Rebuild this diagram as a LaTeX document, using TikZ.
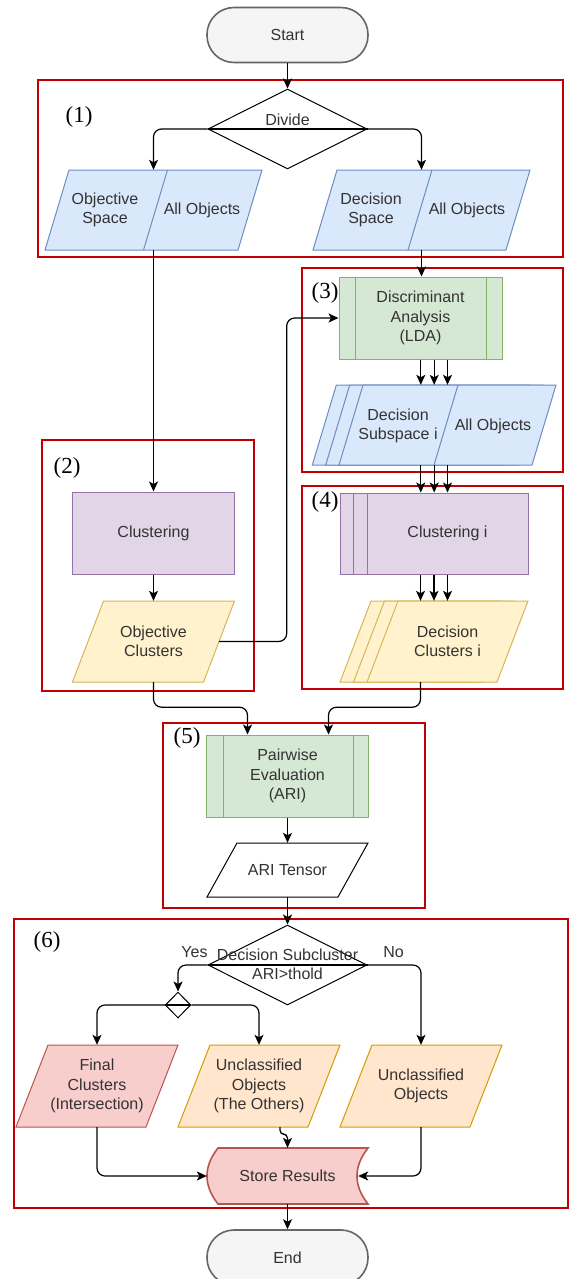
\documentclass[tikz,border=0pt]{standalone}
\usepackage{fontspec}
\setmainfont{Liberation Sans}
\newfontfamily\numfont{Liberation Serif}
\usetikzlibrary{shapes.geometric,arrows.meta,calc}
\definecolor{redbox}{HTML}{C00000}
\definecolor{txtc}{HTML}{333333}
\definecolor{bluef}{HTML}{DAE8FC}\definecolor{blued}{HTML}{6C8EBF}
\definecolor{greenf}{HTML}{D5E8D4}\definecolor{greend}{HTML}{82B366}
\definecolor{purplef}{HTML}{E1D5E7}\definecolor{purpled}{HTML}{9673A6}
\definecolor{yellowf}{HTML}{FFF2CC}\definecolor{yellowd}{HTML}{D6B656}
\definecolor{redf}{HTML}{F8CECC}\definecolor{redd}{HTML}{B85450}
\definecolor{orangef}{HTML}{FFE6CC}\definecolor{oranged}{HTML}{D79B00}
\definecolor{grayf}{HTML}{F5F5F5}\definecolor{grayd}{HTML}{666666}
% #1 style, #2 cx, #3 cy, #4 full width, #5 height, #6 skew
\newcommand\ppara[6]{\path[#1] ({#2-#4/2+#6},{#3-#5/2}) -- ({#2+#4/2},{#3-#5/2}) -- ({#2+#4/2-#6},{#3+#5/2}) -- ({#2-#4/2},{#3+#5/2}) -- cycle;}
\begin{document}
\begin{tikzpicture}[x=1pt,y=-1pt,
  txt/.style={text=txtc, font=\fontsize{16}{19.5}\selectfont, align=center, inner sep=0pt},
  anc/.style={draw=none, inner sep=0pt, rectangle},
  frame/.style={draw=redbox, line width=2pt},
  tag/.style={font=\numfont\fontsize{23}{23}\selectfont, inner sep=0pt, text=black},
  ln/.style={draw=black, line width=1.2pt},
  arr/.style={draw=black, line width=1.2pt, -{Stealth[length=10pt,width=9pt,inset=2.5pt]}},
  term/.style={rectangle, rounded corners=27pt, fill=grayf, draw=grayd, line width=1.6pt, minimum width=161pt, minimum height=55pt, txt},
  dia/.style={diamond, draw=black, fill=white, line width=1pt, inner sep=0pt, minimum width=159pt, minimum height=80pt},
  procG/.style={rectangle, fill=greenf, draw=greend, line width=1pt, minimum width=163pt, minimum height=82pt, txt},
  procP/.style={rectangle, fill=purplef, draw=purpled, line width=1pt, minimum width=161pt, minimum height=81pt, txt},
  blueshp/.style={fill=bluef, draw=blued, line width=1pt},
  yelshp/.style={fill=yellowf, draw=yellowd, line width=1pt},
  redshp/.style={fill=redf, draw=redd, line width=1pt},
  orshp/.style={fill=orangef, draw=oranged, line width=1pt},
  whshp/.style={fill=white, draw=black, line width=1pt}]
\useasboundingbox (0,0) rectangle (570,1279);

% ---- frames
\draw[frame] (37.5,80) rectangle (563,257);
\draw[frame] (42,440) rectangle (254,691);
\draw[frame] (302,268) rectangle (563,472);
\draw[frame] (302,486) rectangle (563,689);
\draw[frame] (163,723) rectangle (425,908);
\draw[frame] (14,919) rectangle (568,1208);
\node[tag] (t1) at (79,117) {(1)};
\node[tag] (t2) at (67,468) {(2)};
\node[tag] (t3) at (325,293) {(3)};
\node[tag] (t4) at (325,502) {(4)};
\node[tag] (t5) at (187,738) {(5)};
\node[tag] (t6) at (47,942) {(6)};

% ---- start / divide
\node[term] (start) at (287.5,35) {Start};
\node[dia] (divide) at (287.5,129) {};
\node[txt] (dividel) at (287.5,120) {Divide};

% ---- objective space
\ppara{blueshp}{153.5}{210}{217}{80}{24}
\draw[blued, line width=1pt] (167.5,170) -- (143.5,250);
\node[anc, minimum width=217pt, minimum height=80pt] (objsp) at (153.5,210) {};
\node[txt] (objspa) at (105,210) {Objective\\Space};
\node[txt] (objspb) at (202,210) {All Objects};

% ---- decision space
\ppara{blueshp}{421.5}{210}{217}{80}{24}
\draw[blued, line width=1pt] (432,170) -- (408,250);
\node[anc, minimum width=217pt, minimum height=80pt] (decsp) at (421.5,210) {};
\node[txt] (decspa) at (371,210) {Decision\\Space};
\node[txt] (decspb) at (467,210) {All Objects};

% ---- LDA
\node[procG] (lda) at (420.5,318) {Discriminant\\Analysis\\(LDA)};
\draw[greend, line width=1pt] ([xshift=17pt]lda.north west) -- ([xshift=17pt]lda.south west);
\draw[greend, line width=1pt] ([xshift=-16pt]lda.north east) -- ([xshift=-16pt]lda.south east);

% ---- decision subspace i (stacked)
\ppara{blueshp}{420.8}{425}{217}{80}{24}
\ppara{blueshp}{434.2}{425}{217}{80}{24}
\ppara{blueshp}{447.5}{425}{217}{80}{24}
\draw[blued, line width=1pt] (458,385) -- (434,465);
\node[anc, minimum width=217pt, minimum height=80pt] (sub1) at (420.8,425) {};
\node[anc, minimum width=217pt, minimum height=80pt] (sub2) at (434.2,425) {};
\node[anc, minimum width=217pt, minimum height=80pt] (sub3) at (447.5,425) {};
\node[txt] (suba) at (398,426) {Decision\\Subspace i};
\node[txt] (subb) at (493,426) {All Objects};

% ---- clustering i (stacked)
\node[procP] (ci1) at (420.5,533.5) {};
\node[procP] (ci2) at (434,533.5) {};
\node[procP] (ci3) at (447.5,533.5) {Clustering i};

% ---- decision clusters i (stacked)
\ppara{yelshp}{420.5}{641.5}{161}{81}{31}
\ppara{yelshp}{434}{641.5}{161}{81}{31}
\ppara{yelshp}{447.5}{641.5}{161}{81}{31}
\node[anc, minimum width=161pt, minimum height=81pt] (dc1) at (420.5,641.5) {};
\node[anc, minimum width=161pt, minimum height=81pt] (dc2) at (434,641.5) {};
\node[anc, minimum width=161pt, minimum height=81pt, txt] (dc3) at (447.5,641.5) {Decision\\Clusters i};

% ---- clustering / objective clusters
\node[procP, minimum width=162pt, minimum height=82pt] (clus) at (153.5,533) {Clustering};
\ppara{yelshp}{153.5}{641.5}{162}{81}{31}
\node[anc, minimum width=162pt, minimum height=81pt, txt] (objcl) at (153.5,641.5) {Objective\\Clusters};

% ---- pairwise / ARI tensor
\node[procG, minimum width=162pt] (pair) at (287.5,776) {Pairwise\\Evaluation\\(ARI)};
\draw[greend, line width=1pt] ([xshift=17pt]pair.north west) -- ([xshift=17pt]pair.south west);
\draw[greend, line width=1pt] ([xshift=-16pt]pair.north east) -- ([xshift=-16pt]pair.south east);
\ppara{whshp}{287.5}{870}{161}{54}{30}
\node[anc, minimum width=161pt, minimum height=54pt, txt] (ari) at (287.5,870) {ARI Tensor};

% ---- decision subcluster
\node[dia] (dec) at (287.5,965) {};
\node[txt] (decl) at (287.5,964.5) {Decision Subcluster\\ARI>thold};
\node[txt] (yes) at (194.5,952) {Yes};
\node[txt] (no) at (393.5,952) {No};
\node[diamond, draw=black, fill=white, line width=1pt, inner sep=0pt, minimum width=25.5pt, minimum height=26pt] (sm) at (178,1005) {};

% ---- results
\ppara{redshp}{97}{1086}{162}{82}{32}
\node[anc, minimum width=162pt, minimum height=82pt, txt] (final) at (97,1086) {Final\\Clusters\\(Intersection)};
\ppara{orshp}{259}{1086}{162}{82}{32}
\node[anc, minimum width=162pt, minimum height=82pt, txt] (others) at (259,1086) {Unclassified\\Objects\\(The Others)};
\ppara{orshp}{421}{1086}{162}{82}{32}
\node[anc, minimum width=162pt, minimum height=82pt, txt] (uncl) at (421,1086) {Unclassified\\Objects};

% ---- store results
\path[fill=redf, draw=redd, line width=1.6pt] (218,1148) -- (368,1148)
  .. controls (353.3,1166.7) and (353.3,1185.3) .. (368,1204) -- (218,1204)
  .. controls (203.3,1185.3) and (203.3,1166.7) .. (218,1148) -- cycle;
\node[anc, minimum width=161pt, minimum height=56pt, txt] (store) at (287.5,1176) {Store Results};
\node[term] (end) at (287.5,1257.5) {End};

% ---- connectors
\draw[arr] (start) -- (divide);
\draw[ln] (divide.west) -- (divide.east);
\draw[arr, rounded corners=8pt] (divide.west) -| (objsp.north);
\draw[arr, rounded corners=8pt] (divide.east) -| (decsp.north);
\draw[arr] (objsp.south) -- (objsp.south |- clus.north);
\draw[arr] (decsp.south) -- (decsp.south |- lda.north);
\draw[arr] (clus.south) -- (clus.south |- objcl.north);
\draw[arr, rounded corners=8pt] ([xshift=-15.5pt]objcl.east) -- ++(67.5pt,0pt) |- (lda.west);
\foreach \s/\c in {sub1/ci1,sub2/ci2,sub3/ci3}{
  \draw[arr] (\s.north |- lda.south) -- (\s.north);
  \draw[arr] (\s.south) -- (\s.south |- \c.north);
}
\foreach \c/\d in {ci1/dc1,ci2/dc2,ci3/dc3}{
  \draw[arr] (\c.south) -- (\c.south |- \d.north);
}
\draw[arr, rounded corners=8pt] (objcl.south) -- ++(0pt,-25pt) -| ([xshift=-40pt]pair.north);
\draw[arr, rounded corners=8pt] (dc1.south) -- ++(0pt,-25pt) -| ([xshift=41pt]pair.north);
\draw[arr] (pair.south) -- (pair.south |- ari.north);
\draw[arr] (ari.south) -- (ari.south |- dec.north);
\draw[ln] (dec.west) -- (dec.east);
\draw[arr, rounded corners=8pt] (dec.west) -| (sm.north);
\draw[arr, rounded corners=8pt] (dec.east) -| (uncl.north);
\draw[ln] (sm.west) -- (sm.east);
\draw[arr, rounded corners=8pt] (sm.west) -| (final.north);
\draw[arr, rounded corners=8pt] (sm.east) -| (others.north);
\draw[arr, rounded corners=8pt] (final.south) |- (store.west);
\draw[arr, rounded corners=8pt] (uncl.south) |- ([xshift=-10pt]store.east);
\draw[arr, rounded corners=4pt] ([xshift=21pt]others.south) -- ++(0pt,-7pt) -| (store.north);
\draw[arr] (store.south) -- (end.north);
\end{tikzpicture}
\end{document}
